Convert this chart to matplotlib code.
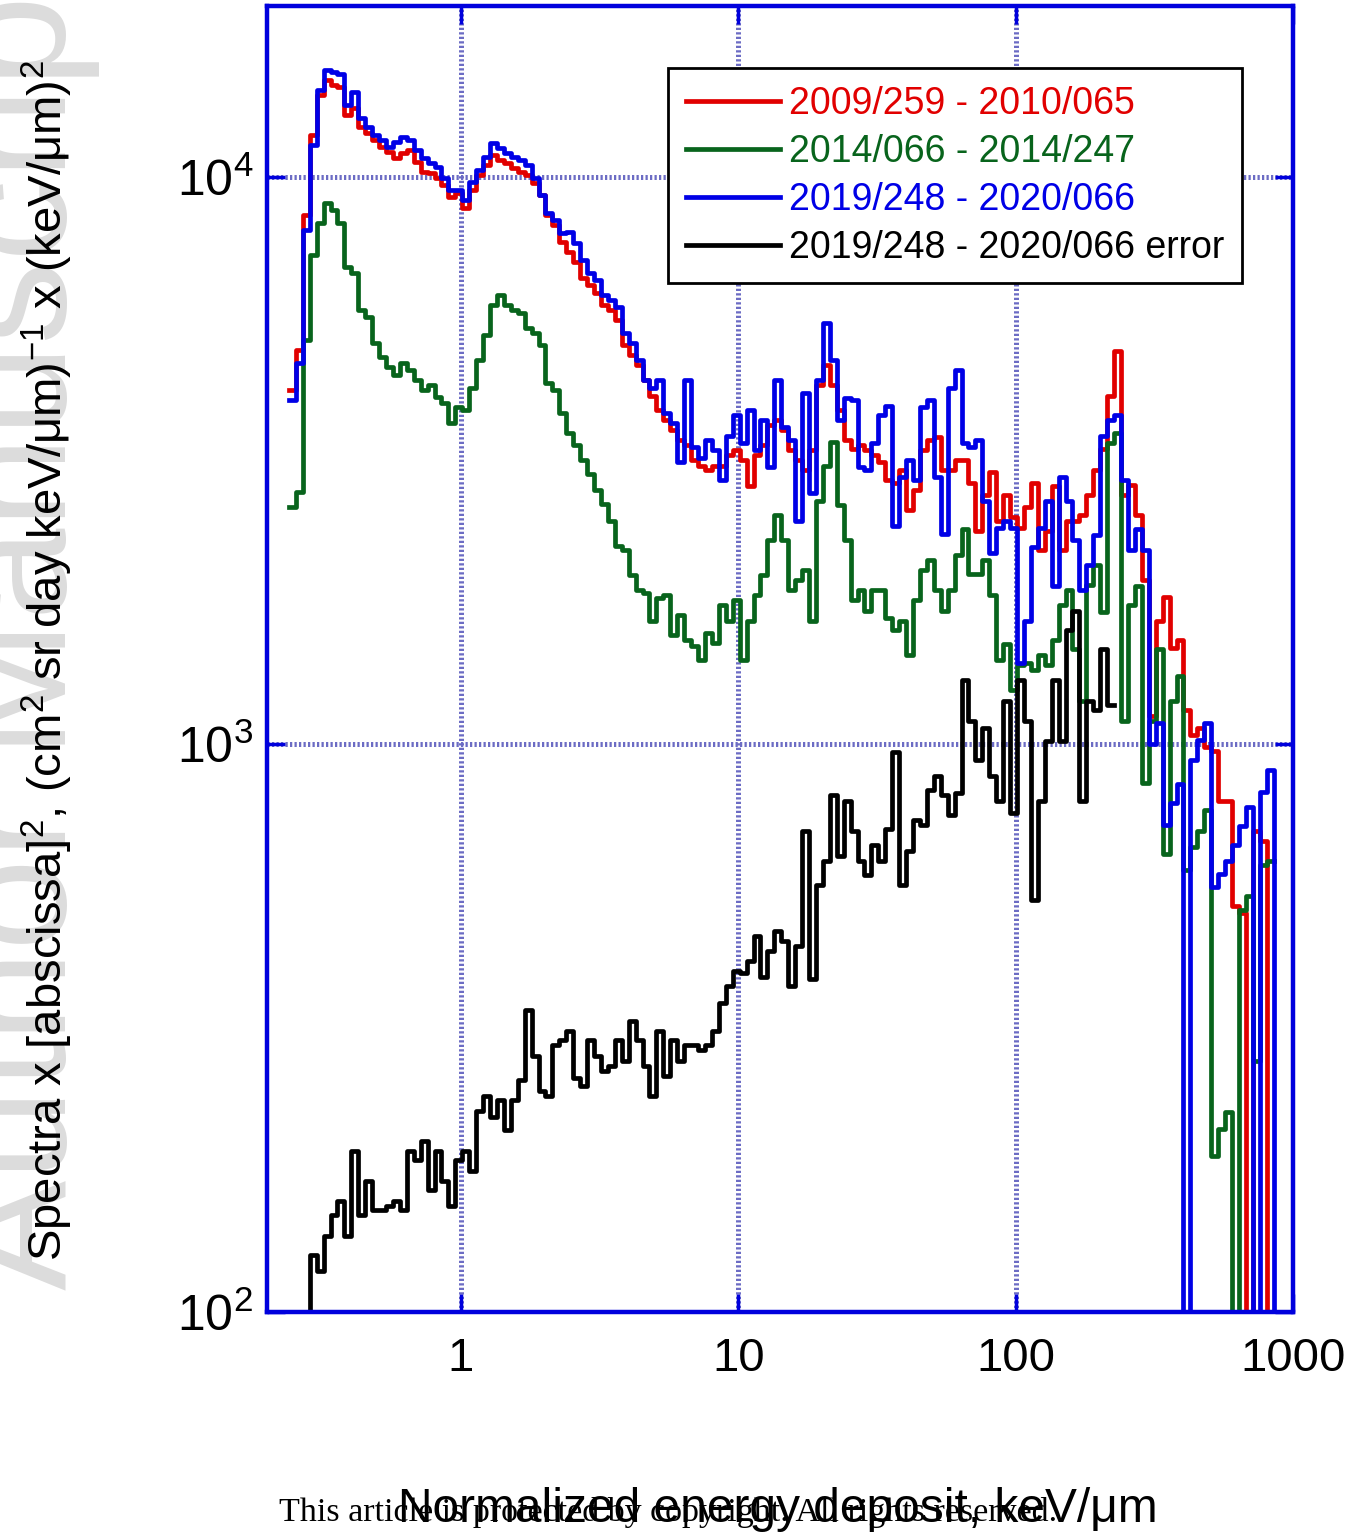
import numpy as np
import matplotlib
matplotlib.use("Agg")
import matplotlib.pyplot as plt
from matplotlib.ticker import NullLocator

plt.rcParams['font.family'] = ['Liberation Sans', 'DejaVu Sans']
plt.rcParams['mathtext.fontset'] = 'custom'
plt.rcParams['mathtext.rm'] = 'Liberation Sans'
plt.rcParams['mathtext.it'] = 'Liberation Sans:italic'

nan = np.nan

# log-spaced bins, 40 per decade
edges = 10 ** (-0.62 + np.arange(144) / 40)

# spectra x E^2, one value per bin (0 = empty bin)
red = [
    4210, 4950, 8570, 11850, 13960, 14830, 14530, 14380, 12850, 13230,
    12250, 11950, 11620, 11300, 11070, 10800, 11030, 11160, 10630, 10200,
    10160, 9960, 9680, 9220, 9360, 8820, 9490, 10080, 10500, 10940,
    10720, 10580, 10370, 10200, 10080, 9760, 9290, 8570, 8230, 7680,
    7380, 7080, 6630, 6450, 6240, 5940, 5820, 5600, 5050, 4850,
    4670, 4390, 4110, 3880, 3730, 3580, 3440, 3370, 3170, 3100,
    3040, 3100, 3100, 3240, 3300, 3170, 2850, 3240, 3370, 3650,
    3730, 3580, 3300, 3170, 3040, 3300, 4300, 4670, 4300, 3880,
    3440, 3320, 3370, 3300, 3240, 3150, 2920, 2890, 3040, 2590,
    2810, 3300, 3440, 3480, 3040, 3040, 3170, 3170, 2890, 2380,
    2750, 3020, 2480, 2750, 2520, 2410, 2620, 2890, 2200, 2380,
    2850, 2200, 2480, 2480, 2540, 2750, 3040, 3320, 4110, 4930,
    2750, 2860, 2540, 1950, 1120, 1650, 1820, 1480, 1530, 1150,
    1040, 1070, 990, 975, 796, 796, 520, 505, 0, 705,
    677, 0, 0,
]

green = [
    2620, 2790, 5160, 7290, 8300, 9000, 8750, 8300, 6940, 6770,
    5820, 5660, 5100, 4810, 4620, 4480, 4700, 4570, 4390, 4210,
    4290, 4090, 4000, 3680, 3930, 3880, 4250, 4760, 5270, 5940,
    6200, 5940, 5820, 5760, 5420, 5310, 5050, 4330, 4210, 3830,
    3540, 3370, 3170, 2990, 2810, 2650, 2480, 2240, 2200, 1990,
    1870, 1850, 1650, 1810, 1830, 1560, 1690, 1530, 1490, 1410,
    1570, 1510, 1760, 1650, 1800, 1410, 1650, 1830, 1990, 2290,
    2540, 2290, 1870, 1950, 2030, 1650, 2690, 3100, 3410, 2640,
    2290, 1800, 1870, 1720, 1870, 1870, 1670, 1590, 1650, 1440,
    1800, 2030, 2110, 1870, 1720, 1870, 2160, 2400, 2000, 2000,
    2110, 1830, 1410, 1500, 1245, 1380, 1390, 1350, 1440, 1380,
    1530, 1760, 1870, 1470, 1195, 1910, 2070, 1710, 3400, 3540,
    1100, 1760, 1900, 855, 1100, 1470, 640, 1195, 1320, 600,
    660, 705, 765, 188, 210, 225, 0, 510, 540, 277,
    612, 624, nan,
]

blue = [
    4040, 4700, 8060, 11400, 14240, 15440, 15300, 15200, 13400, 14100,
    12700, 12250, 11850, 11620, 11300, 11530, 11760, 11620, 11160, 10800,
    10580, 10400, 9950, 9490, 9490, 9110, 9790, 10290, 10840, 11450,
    11250, 11030, 10840, 10720, 10500, 9960, 9290, 8640, 8400, 7960,
    7990, 7640, 7140, 6770, 6580, 6200, 6070, 5900, 5300, 5100,
    4760, 4390, 4250, 4390, 3830, 3680, 3140, 4390, 3340, 3200,
    3440, 3300, 2920, 3500, 3800, 3400, 3880, 3300, 3730, 3080,
    4390, 3630, 3440, 2480, 4160, 2770, 4390, 5530, 4760, 3730,
    4080, 4040, 3080, 3040, 3400, 3800, 3950, 2430, 2960, 3170,
    2920, 3930, 4040, 2960, 2350, 4250, 4570, 3400, 3340, 3440,
    2690, 2170, 2410, 2480, 2410, 1390, 1650, 2230, 2410, 2690,
    1900, 2960, 2690, 2290, 1870, 2070, 2340, 3500, 3730, 3800,
    2920, 2200, 2400, 2200, 1000, 1090, 720, 787, 850, 0,
    937, 1020, 1090, 560, 590, 624, 665, 717, 775, 0,
    825, 900, 0,
]

black = [
    nan, nan, 95, 126, 118, 136, 148, 157, 136, 192,
    148, 170, 151, 151, 154, 157, 151, 192, 185, 200,
    164, 192, 170, 154, 185, 192, 177, 226, 240, 221,
    236, 209, 236, 256, 340, 283, 245, 240, 295, 301,
    313, 258, 250, 301, 283, 266, 271, 301, 277, 326,
    301, 271, 240, 313, 261, 301, 277, 295, 295, 289,
    295, 313, 350, 375, 399, 395, 416, 460, 390, 433,
    470, 451, 375, 442, 705, 386, 565, 624, 813, 637,
    796, 705, 624, 588, 665, 624, 710, 970, 565, 650,
    735, 720, 830, 880, 813, 750, 820, 1300, 1100, 937,
    1070, 880, 796, 1195, 757, 1300, 1100, 531, 796, 1015,
    1300, 1015, 1590, 1720, 796, 1195, 1150, 1470, 1175,
] + [nan] * 24

labels = ["2009/259 - 2010/065", "2014/066 - 2014/247",
          "2019/248 - 2020/066", "2019/248 - 2020/066 error"]
colors = ["#e10000", "#08641c", "#0000e6", "#000000"]

fig = plt.figure(figsize=(13.6, 15.34), dpi=100)
ax = fig.add_axes([267 / 1360, 1 - 1312 / 1534, 1026 / 1360, 1306 / 1534])

for vals, col, lab in zip([red, green, blue, black], colors, labels):
    v = np.append(vals, vals[-1])
    ax.step(edges, v, where='post', color=col, lw=3.4, label=lab)

ax.set_xscale('log')
ax.set_yscale('log')
ax.set_xlim(0.2, 1000)
ax.set_ylim(100, 20000)

ax.set_xticks([1, 10, 100, 1000])
ax.set_xticklabels(['1', '10', '100', '1000'])
ax.set_yticks([100, 1000, 10000])
ax.set_yticklabels([r'$10^2$', r'$10^3$', r'$10^4$'])
ax.xaxis.set_minor_locator(NullLocator())
ax.yaxis.set_minor_locator(NullLocator())

frame_blue = '#0000dd'
for sp in ax.spines.values():
    sp.set_color(frame_blue)
    sp.set_linewidth(3.2)
ax.tick_params(which='major', direction='in', length=13, width=2.5,
               color=frame_blue, top=True, right=True)
ax.tick_params(axis='x', pad=18, labelsize=34)
ax.tick_params(axis='y', pad=10, labelsize=36)

ax.grid(True, which='major', color='#6c6cc4', linestyle=(0, (0.45, 0.45)),
        linewidth=3.6)
ax.set_axisbelow(True)

leg = ax.legend(loc='upper left', bbox_to_anchor=(0.391, 0.9525),
                fontsize=27, frameon=True, fancybox=False,
                edgecolor='black', framealpha=1, handlelength=2.5,
                handletextpad=0.25, labelspacing=0.32, borderpad=0.47,
                borderaxespad=0, labelcolor='linecolor')
leg.get_frame().set_linewidth(2)

# faint watermark along the left edge
fig.text(100 / 1360, 1 - 1290 / 1534, 'Author Manuscript', rotation=90,
         fontsize=119, color='#dcdcdc', ha='right', va='bottom',
         zorder=0)

fig.text(47 / 1360, 1 - 661 / 1534,
         r'Spectra x [abscissa]$^2$, (cm$^2$ sr day keV/μm)$^{-1}$ x (keV/μm)$^2$',
         rotation=90, fontsize=34, ha='center', va='center')
fig.text(778 / 1360, 1 - 1510 / 1534, 'Normalized energy deposit, keV/μm',
         fontsize=34.5, ha='center', va='center')
fig.text(668 / 1360, 1 - 1512 / 1534,
         'This article is protected by copyright. All rights reserved.',
         fontsize=24.5, family='Liberation Serif', ha='center', va='center')

fig.savefig('out.png', dpi=100)
